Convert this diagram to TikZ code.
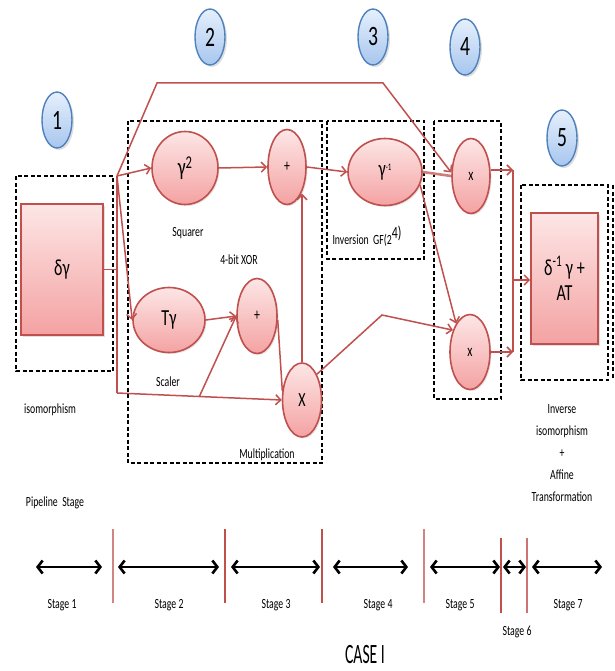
\documentclass[tikz,border=0pt]{standalone}
\usepackage{fontspec}
\setmainfont{Carlito}[FakeStretch=0.7]
\newfontfamily\casefont{Carlito}[FakeStretch=0.56]
\usetikzlibrary{shapes.geometric,arrows.meta,shadows,calc}

\definecolor{linkred}{HTML}{C0504D}
\definecolor{cutred}{HTML}{C0504D}
\definecolor{pinklight}{HTML}{FDE6E6}
\definecolor{pinkdark}{HTML}{F4A2A2}
\definecolor{bluelight}{HTML}{E6F0FC}
\definecolor{bluedark}{HTML}{A7C6EE}
\definecolor{blueedge}{HTML}{4F81BD}

\tikzset{
  unit/.style={ellipse, draw=linkred, line width=1.6pt, top color=pinklight,
    bottom color=pinkdark, inner sep=0pt,
    drop shadow={opacity=0.2, shadow xshift=1.5pt, shadow yshift=-1.5pt}},
  block/.style={rectangle, draw=linkred, line width=1.6pt, top color=pinklight,
    bottom color=pinkdark, inner sep=0pt, align=center,
    drop shadow={opacity=0.25, shadow xshift=2pt, shadow yshift=-2pt}},
  badge/.style={ellipse, draw=blueedge, line width=1.4pt, top color=bluelight,
    bottom color=bluedark, minimum width=30pt, minimum height=56pt, inner sep=0pt,
    font=\fontsize{28}{28}\selectfont,
    drop shadow={opacity=0.25, shadow xshift=2pt, shadow yshift=-2pt}},
  stagebox/.style={draw=black, line width=1.4pt, dash pattern=on 4pt off 2.5pt},
  link/.style={draw=linkred, line width=1.5pt},
  arr/.style={link, -{Straight Barb[length=5pt,width=10pt,line width=1.5pt]}},
  lbl/.style={font=\fontsize{14}{16}\selectfont, inner sep=0pt},
  big/.style={font=\fontsize{23}{25}\selectfont},
  span/.style={line width=2.6pt,
    {Straight Barb[length=5pt,width=13pt,line width=2.6pt]}-{Straight Barb[length=5pt,width=13pt,line width=2.6pt]}},
  cut/.style={draw=cutred, line width=1.8pt},
}

\begin{document}
\begin{tikzpicture}[x=1pt, y=-1pt]
\useasboundingbox (0,0) rectangle (614,671);

% stage numbers
\node[badge] (b1) at (57,120) {1};
\node[badge] (b2) at (210,37) {2};
\node[badge] (b3) at (373,37) {3};
\node[badge] (b4) at (465,47) {4};
\node[badge] (b5) at (562,138) {5};

% dashed stage frames
\draw[stagebox] (16,176) rectangle (113,371);
\draw[stagebox] (128,121) rectangle (322,463);
\draw[stagebox] (327,121) rectangle (424,259);
\draw[stagebox] (434,121) rectangle (501,399);
\draw[stagebox] (521,185) rectangle (608,380);
\draw[stagebox] (613,185) -- (613,378);

% blocks
\node[block, big, minimum width=82pt, minimum height=131pt] (iso) at (62,269.5) {δγ};
\node[block, big, minimum width=67pt, minimum height=131pt] (aff) at (564.5,278.5)
  {δ\textsuperscript{-1} γ +\\AT};

% operator units
\node[unit, font=\fontsize{25}{25}\selectfont, minimum width=66pt, minimum height=73pt] (sq) at (185,168)
  {γ\raisebox{7pt}{\fontsize{18}{18}\selectfont 2}};
\node[unit, font=\fontsize{17}{17}\selectfont, minimum width=38pt, minimum height=75pt] (xa) at (287,167) {+};
\node[unit, font=\fontsize{23}{23}\selectfont, minimum width=74pt, minimum height=67pt] (inv) at (385,172)
  {γ\raisebox{6pt}{\fontsize{10}{10}\selectfont -1}};
\node[unit, font=\fontsize{17}{17}\selectfont, minimum width=38pt, minimum height=75pt] (ma) at (471,176) {x};
\node[unit, big, minimum width=72pt, minimum height=65pt] (sc) at (169,320) {Tγ};
\node[unit, font=\fontsize{17}{17}\selectfont, minimum width=40pt, minimum height=75pt] (xb) at (257,316) {+};
\node[unit, font=\fontsize{20}{20}\selectfont, minimum width=39pt, minimum height=74pt] (mul) at (302,400) {X};
\node[unit, font=\fontsize{17}{17}\selectfont, minimum width=40pt, minimum height=75pt] (mb) at (470,352) {x};

% routing points
\coordinate (jt) at (117,176);
\coordinate (jb) at (117,393);
\coordinate (ta) at (157,83);
\coordinate (tb) at (383,83);
\coordinate (js) at ($(jb)!0.5!(mul.west)$);
\coordinate (mk) at (382,315);
\coordinate (ra) at (513,170);
\coordinate (rb) at (513,352);
\coordinate (rm) at (513,280);

% connectors
\draw[link] (iso.east) -- (iso.east -| jt);
\draw[link] (jt) -- (jb);
\draw[arr] (jt) -- (sq.west);
\draw[arr] (jt) -- (sc.west);
\draw[arr] (jt) -- (ta) -- (tb) -- (ma.170);
\draw[arr] (sq.east) -- (xa.west);
\draw[arr] (xa.east) -- (inv.west);
\draw[draw=linkred!75, line width=2.6pt] (inv.east) -- (ma.west);
\draw[arr] (inv.-20) -- (mb.116);
\draw[arr] (sc.east) -- (xb.west);
\draw[arr] (jb) -- (mul.west);
\draw[arr] (js) -- (xb.west);
\draw[link] (xb.-10) -- (mul.155);
\draw[arr] (mul.north) -- (mul.north |- xa.-62);
\draw[arr] (mul.60) -- (mk) -- (mb.128);
\draw[arr] (ma.east |- ra) -- (ra);
\draw[arr] (mb.east) -- (rb);
\draw[link] (ra) -- (rb);
\draw[arr] (rm) -- (rm -| aff.west);

% labels
\node[lbl] (lsq) at (188,233) {Squarer};
\node[lbl] (lxor) at (239,260) {4-bit XOR};
\node[lbl] (lsc) at (168,382) {Scaler};
\node[lbl] (lmul) at (267,455) {Multiplication};
\node[lbl] (liso) at (50,410) {isomorphism};
\node[lbl] (linv) at (367,236) {Inversion\ \ GF(2\raisebox{6pt}{\fontsize{17}{17}\selectfont 4)}};
\node[lbl] (lpipe) at (55,503) {Pipeline\ \ Stage};
\node[lbl, align=center, font=\fontsize{14}{22}\selectfont] (laff) at (562,453)
  {Inverse\\isomorphism\\+\\Affine\\Transformation};

% pipeline stages
\draw[span] (36,567) -- (102,567);
\draw[span] (118,567) -- (219,567);
\draw[span] (231,567) -- (320,567);
\draw[span] (333,567) -- (408,567);
\draw[span] (430,567) -- (500,567);
\draw[span] (503,567) -- (526,567);
\draw[span] (532,567) -- (602,567);

\draw[cut, draw=cutred!70] (113,529) -- (113,603);
\draw[cut] (225,529) -- (225,603);
\draw[cut] (322,529) -- (322,603);
\draw[cut, draw=cutred!70] (424,529) -- (424,603);
\draw[cut] (501,538) -- (501,613);
\draw[cut, draw=cutred!80] (527,538) -- (527,613);

\node[lbl] (s1) at (62,605) {Stage 1};
\node[lbl] (s2) at (169,605) {Stage 2};
\node[lbl] (s3) at (276,605) {Stage 3};
\node[lbl] (s4) at (378,605) {Stage 4};
\node[lbl] (s5) at (460,605) {Stage 5};
\node[lbl] (s6) at (517,632) {Stage 6};
\node[lbl] (s7) at (568,605) {Stage 7};

\node[inner sep=0pt, font=\casefont\fontsize{28}{28}\selectfont] (case) at (365,655) {CASE I};
\end{tikzpicture}
\end{document}
